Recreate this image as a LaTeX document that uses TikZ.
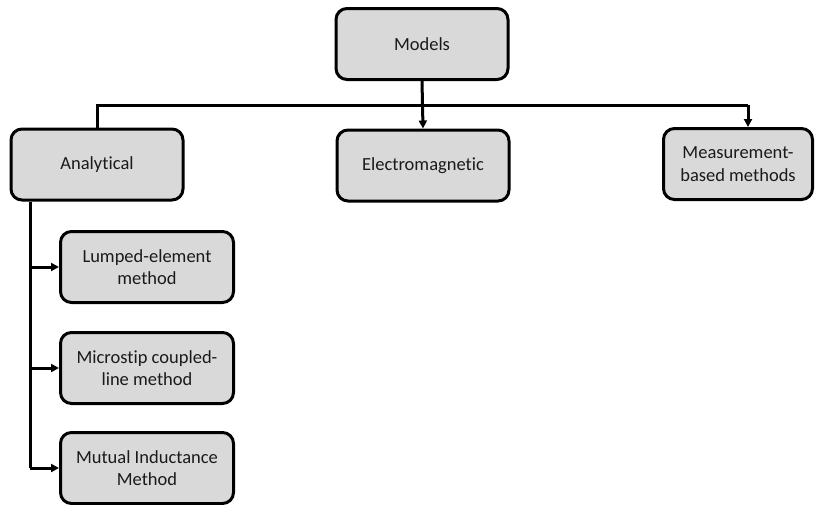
\documentclass[tikz,border=0pt]{standalone}
\usepackage{fontspec}
\setmainfont{Carlito}[Ligatures={NoCommon,NoDiscretionary,NoContextual}]
\usetikzlibrary{arrows.meta}
\definecolor{boxfill}{HTML}{D9D9D9}
\definecolor{inkdark}{HTML}{1A1A1A}
\begin{document}
\begin{tikzpicture}[x=1pt,y=-1pt,
  block/.style={draw=black, line width=3pt, fill=boxfill, rounded corners=11pt,
    minimum width=#1, minimum height=71pt, align=center, inner sep=0pt,
    font=\fontsize{18.5}{22.5}\selectfont, text=inkdark},
  block/.default=172pt,
  link/.style={draw=black, line width=3pt},
  arrowlink/.style={link, -{Triangle[length=8pt,width=8pt]}}]
\useasboundingbox (0,0) rectangle (824,504);
% top level
\node[block] (models) at (422,44) {Models};
% second level
\node[block] (ana) at (97,164.5) {Analytical};
\node[block] (em) at (423,165.5) {Electromagnetic};
\node[block=149pt] (meas) at (738,164) {Measurement-\\based methods};
% analytical sub-methods
\node[block=173pt] (lump) at (147,267) {Lumped-element\\method};
\node[block=173pt] (micro) at (147,368) {Microstip coupled-\\line method};
\node[block=173pt] (mutual) at (147,468) {Mutual Inductance\\Method};
% bus below the top box
\coordinate (bus) at (0,105);
\coordinate (busL) at (ana.north |- bus);
\coordinate (busR) at (748,105);
\draw[arrowlink] (models.south) -- (em.north);
\draw[link] (ana.north) -- (busL) -- (busR);
\draw[arrowlink] (busR) -- (busR |- meas.north);
% trunk from the analytical box
\coordinate (trunk) at (30,0);
\draw[link] (trunk |- ana.south) -- (trunk |- mutual.west);
\draw[arrowlink] (trunk |- lump.west) -- (lump.west);
\draw[arrowlink] (trunk |- micro.west) -- (micro.west);
\draw[arrowlink] (trunk |- mutual.west) -- (mutual.west);
\end{tikzpicture}
\end{document}
